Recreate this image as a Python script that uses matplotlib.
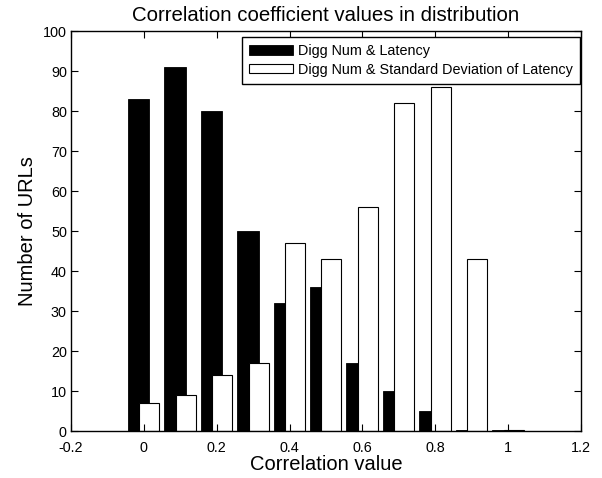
import numpy as np
import matplotlib
matplotlib.use("Agg")
import matplotlib.pyplot as plt

plt.rcParams['font.family'] = ['Liberation Sans', 'DejaVu Sans']

# Bin positions (correlation value) and counts for each series
bins = [0.0, 0.1, 0.2, 0.3, 0.4, 0.5, 0.6, 0.7, 0.8, 0.9, 1.0]
latency = [83, 91, 80, 50, 32, 36, 17, 10, 5, 0.3, 0.3]
std_latency = [7, 9, 14, 17, 47, 43, 56, 82, 86, 43, 0.2]

labels = ["Digg Num & Latency", "Digg Num & Standard Deviation of Latency"]
xticks = [-0.2, 0, 0.2, 0.4, 0.6, 0.8, 1, 1.2]
xtick_labels = ["-0.2", "0", "0.2", "0.4", "0.6", "0.8", "1", "1.2"]
yticks = [0, 10, 20, 30, 40, 50, 60, 70, 80, 90, 100]

fig = plt.figure(figsize=(6.02, 4.78), dpi=100)
ax = fig.add_axes([0.118, 0.098, 0.847, 0.837])

x = np.array(bins)
ax.bar(x - 0.0145, latency, width=0.0585, color='black', edgecolor='black',
       linewidth=0.6, label=labels[0])
ax.bar(x + 0.015, std_latency, width=0.055, color='white', edgecolor='black',
       linewidth=0.8, label=labels[1])

ax.set_xlim(-0.2, 1.2)
ax.set_ylim(0, 100)
ax.set_xticks(xticks)
ax.set_xticklabels(xtick_labels)
ax.set_yticks(yticks)
ax.tick_params(direction='in', top=True, right=True, length=5, width=0.8,
               labelsize=10.4)
ax.tick_params(axis='x', pad=7)
ax.tick_params(axis='y', pad=3)
for s in ax.spines.values():
    s.set_linewidth(1.0)

ax.set_title("Correlation coefficient values in distribution", fontsize=14.7, pad=7)
ax.set_xlabel("Correlation value", fontsize=14.5, labelpad=0)
ax.set_ylabel("Number of URLs", fontsize=14.5, labelpad=4)

leg = ax.legend(loc='upper right', bbox_to_anchor=(0.998, 0.985), borderaxespad=0,
                fontsize=10.4, fancybox=False, framealpha=1, edgecolor='black',
                handlelength=3.0, handleheight=0.65, handletextpad=0.35,
                labelspacing=0.3, borderpad=0.5)
leg.get_frame().set_linewidth(1.0)

fig.savefig("out.png", dpi=100)
